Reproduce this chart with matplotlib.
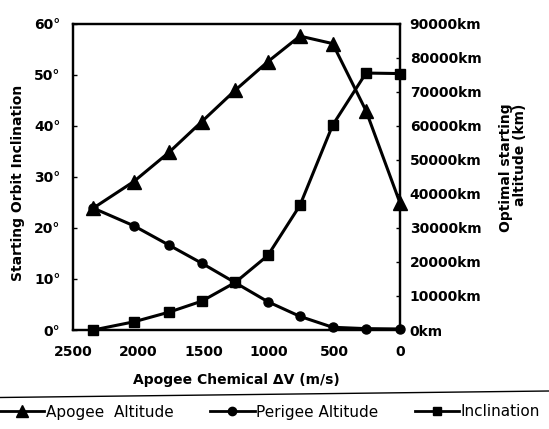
import matplotlib
matplotlib.use("Agg")
import matplotlib.pyplot as plt
from matplotlib.lines import Line2D

# ---- data ----
delta_v = [2345, 2035, 1765, 1515, 1260, 1010, 765, 515, 260, 0]            # m/s
apogee_km = [35786, 43600, 52200, 61200, 70400, 78800, 86300, 84100, 64400, 37300]
perigee_km = [35786, 30600, 24900, 19600, 13900, 8300, 4000, 800, 400, 300]
inclination_deg = [0.0, 1.6, 3.5, 5.65, 9.3, 14.6, 24.4, 40.1, 50.3, 50.2]

x_ticks = [2500, 2000, 1500, 1000, 500, 0]
left_ticks = [0, 10, 20, 30, 40, 50, 60]
right_ticks = [0, 10000, 20000, 30000, 40000, 50000, 60000, 70000, 80000, 90000]

plt.rcParams['font.family'] = ['DejaVu Sans']

fig = plt.figure(figsize=(5.49, 4.29), dpi=100)
W, H = 549, 429
left, right, top, bottom = 73, 400, 23.5, 330
ax = fig.add_axes([left / W, 1 - bottom / H, (right - left) / W, (bottom - top) / H])
ax2 = ax.twinx()

lw = 2.2
ax.plot(delta_v, inclination_deg, color='black', lw=lw, marker='s', ms=7,
        clip_on=False, zorder=3)
ax2.plot(delta_v, apogee_km, color='black', lw=lw, marker='^', ms=9.5,
         clip_on=False, zorder=3)
ax2.plot(delta_v, perigee_km, color='black', lw=lw, marker='o', ms=6.5,
         clip_on=False, zorder=3)

ax.set_xlim(2500, 0)
ax.set_ylim(0, 60)
ax2.set_ylim(0, 90000)

ax.set_xticks(x_ticks)
ax.set_xticklabels([str(v) for v in x_ticks])
ax.set_yticks(left_ticks)
ax.set_yticklabels([f"{v}\u00b0" for v in left_ticks])
ax2.set_yticks(right_ticks)
ax2.set_yticklabels([f"{v}km" for v in right_ticks])

tfont = dict(fontsize=10, fontweight='bold')
for lab in ax.get_xticklabels() + ax.get_yticklabels() + ax2.get_yticklabels():
    lab.set_fontsize(10)
    lab.set_fontweight('bold')

ax.tick_params(axis='x', length=0, pad=11)
ax.tick_params(axis='y', direction='in', length=3, width=1, pad=9)
ax2.tick_params(axis='y', direction='in', length=3, width=1, pad=7)

for a in (ax, ax2):
    for s in a.spines.values():
        s.set_linewidth(1.6)

ax.set_xlabel("Apogee Chemical \u0394V (m/s)", labelpad=10, **tfont)
ax.set_ylabel("Starting Orbit Inclination", labelpad=8, **tfont)
ax.yaxis.set_label_coords(-0.148, 0.48)

fig.text(513 / W, 1 - 168 / H, "Optimal starting\naltitude (km)", rotation=90,
         ha='center', va='center', multialignment='right', linespacing=1.0,
         **tfont)

# separator line above the legend
fig.add_artist(Line2D([0, 1], [1 - 397.5 / H, 1 - 391 / H], transform=fig.transFigure,
                      color='black', lw=1.0))

handles = [
    Line2D([], [], color='black', lw=2, marker='^', ms=8),
    Line2D([], [], color='black', lw=2, marker='o', ms=6),
    Line2D([], [], color='black', lw=2, marker='s', ms=6),
]
labels = ["Apogee  Altitude", "Perigee Altitude", "Inclination"]
fig.legend(handles, labels, loc='center left', bbox_to_anchor=(0.0, 1 - 412 / H),
           ncol=3, frameon=False, fontsize=11, handlelength=2.9,
           handletextpad=0.1, columnspacing=2.4, borderpad=0, borderaxespad=0)

fig.savefig("out.png", dpi=100)
